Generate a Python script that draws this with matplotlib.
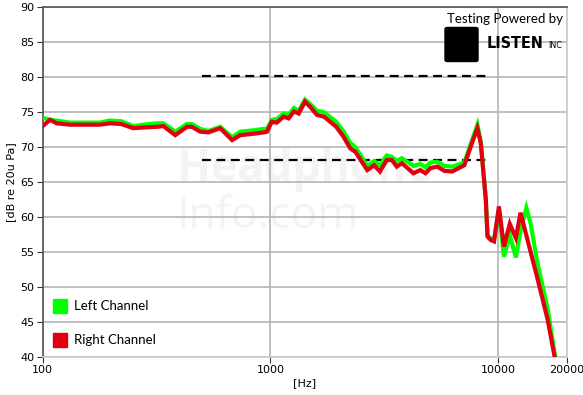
import matplotlib
matplotlib.use("Agg")
import matplotlib.pyplot as plt
from matplotlib.patches import FancyBboxPatch, Rectangle

freq_red = [100, 107.7, 115, 131.8, 178, 197.6, 221, 250, 277, 317, 339, 382, 430, 452, 492, 534,
            602, 679, 737, 842, 935, 966, 1013, 1066, 1143, 1203, 1268, 1331, 1418, 1491, 1601, 1718,
            1945, 2091, 2242, 2362, 2663, 2853, 3026, 3243, 3413, 3588, 3775, 4249, 4552, 4797, 5050,
            5410, 5798, 6285, 7104, 7568, 8107, 8391, 8830, 8980, 9280, 9590, 10080, 10600, 11250,
            11960, 12540, 14800, 16500, 17650]
db_red = [73.0, 73.9, 73.4, 73.2, 73.2, 73.4, 73.3, 72.7, 72.8, 72.9, 73.0, 71.7, 72.9, 72.9, 72.2, 72.1,
          72.7, 71.0, 71.7, 71.9, 72.1, 72.2, 73.6, 73.5, 74.35, 74.1, 75.1, 74.8, 76.5, 75.8, 74.6, 74.35,
          72.9, 71.5, 69.8, 69.3, 66.7, 67.4, 66.5, 68.15, 68.15, 67.2, 67.7, 66.25, 66.7, 66.25, 67.0,
          67.2, 66.6, 66.5, 67.4, 70.0, 72.7, 70.5, 62.4, 57.2, 56.7, 56.5, 61.5, 55.75, 59.0,
          57.0, 60.6, 51.5, 45.3, 40.2]

freq_green = [100, 107.7, 115, 131.8, 178, 197.6, 221, 250, 277, 317, 339, 382, 430, 452, 492, 534,
              602, 679, 737, 842, 935, 966, 1013, 1066, 1143, 1203, 1268, 1331, 1418, 1491, 1601, 1718,
              1945, 2091, 2242, 2362, 2663, 2853, 3026, 3243, 3413, 3588, 3775, 4249, 4552, 4797, 5050,
              5410, 5798, 6285, 7104, 7568, 8107, 8391, 8830, 8980, 9280, 9590, 10080, 10600, 11250,
              11960, 12540, 13300, 13900, 14800, 16500, 17800]
db_green = [74.2, 73.9, 73.8, 73.5, 73.5, 73.8, 73.7, 73.0, 73.2, 73.4, 73.4, 72.2, 73.3, 73.3, 72.6, 72.3,
            72.9, 71.4, 72.2, 72.4, 72.6, 72.6, 73.9, 74.0, 74.8, 74.6, 75.6, 75.2, 76.8, 76.2, 75.2, 75.0,
            73.6, 72.3, 70.6, 70.0, 67.3, 68.0, 67.4, 68.8, 68.6, 68.0, 68.4, 67.3, 67.6, 67.1, 67.8,
            67.9, 67.3, 67.2, 67.8, 70.4, 73.2, 70.8, 62.6, 57.4, 56.9, 56.7, 61.0, 54.3, 57.4,
            54.2, 58.0, 61.3, 59.0, 53.8, 46.8, 40.0]

target_freq = [500, 9000]
target_upper = [80.2, 80.2]
target_lower = [68.2, 68.2]

xticks = [100, 1000, 10000, 20000]
xticklabels = ["100", "1000", "10000", "20000"]
yticks = [40, 45, 50, 55, 60, 65, 70, 75, 80, 85, 90]

W, H = 583, 395
fig = plt.figure(figsize=(W / 100, H / 100), dpi=100)
ax = fig.add_axes([42.7 / W, 1 - 356.7 / H, (566.7 - 42.7) / W, (356.7 - 7.3) / H])

ax.set_xscale("log")
ax.set_xlim(100, 20000)
ax.set_ylim(40, 90)
ax.set_xticks(xticks)
ax.set_xticklabels(xticklabels)
ax.xaxis.set_minor_locator(matplotlib.ticker.NullLocator())
ax.set_yticks(yticks)
ax.grid(True, color="#b4b4b4", linewidth=1.2)
ax.set_axisbelow(True)
ax.tick_params(axis="both", labelsize=8, length=4, color="#333333", pad=2)
for s in ["left", "top"]:
    ax.spines[s].set_color("#555555")
for s in ["right", "bottom"]:
    ax.spines[s].set_color("#cccccc")
for s in ax.spines.values():
    s.set_linewidth(1.2)

# watermark
ax.text(0.50, 0.535, "Headphone", transform=ax.transAxes, fontsize=32, fontweight="bold",
        color="#f3f3f3", ha="center", va="center", family="Open Sans", zorder=0.5)
ax.text(0.43, 0.40, "Info.com", transform=ax.transAxes, fontsize=32,
        color="#f3f3f3", ha="center", va="center", family="Open Sans", zorder=0.5)

ax.plot(target_freq, target_upper, color="black", linestyle=(0, (4, 2.5)), linewidth=1.6, zorder=3)
ax.plot(target_freq, target_lower, color="black", linestyle=(0, (4, 2.5)), linewidth=1.6, zorder=3)

ax.plot(freq_green, db_green, color="#00ff00", linewidth=3, zorder=4, solid_joinstyle="miter")
ax.plot(freq_red, db_red, color="#e00010", linewidth=3, zorder=5, solid_joinstyle="miter")

ax.set_xlabel("[Hz]", fontsize=8, labelpad=2)
ax.set_ylabel("[dB re 20u Pa]", fontsize=8, labelpad=3)

# legend
fig.patches.append(Rectangle((53 / W, 1 - 312.7 / H), 14 / W, 13.7 / H, transform=fig.transFigure,
                             color="#00ff00", zorder=10))
fig.patches.append(Rectangle((53 / W, 1 - 346.7 / H), 14 / W, 13.7 / H, transform=fig.transFigure,
                             color="#e00010", zorder=10))
fig.text(74 / W, 1 - 306 / H, "Left Channel", fontsize=9.5, va="center", family="Lato")
fig.text(74 / W, 1 - 340 / H, "Right Channel", fontsize=9.5, va="center", family="Lato")

# branding
fig.text(563 / W, 1 - 19 / H, "Testing Powered by", fontsize=9.5, ha="right", va="center", family="Lato")
fig.patches.append(FancyBboxPatch((445 / W, 1 - 61.5 / H), 33 / W, 34 / H, transform=fig.transFigure,
                                  boxstyle="round,pad=0,rounding_size=0.004", color="black", zorder=10))
fig.text(487 / W, 1 - 44 / H, "LISTEN", fontsize=11.5, ha="left", va="center", family="DejaVu Sans",
         fontweight="bold", fontstretch="condensed")
fig.text(548 / W, 1 - 46 / H, "INC", fontsize=6.5, ha="left", va="center", family="DejaVu Sans",
         fontstretch="condensed")

fig.savefig("out.png", dpi=100)
